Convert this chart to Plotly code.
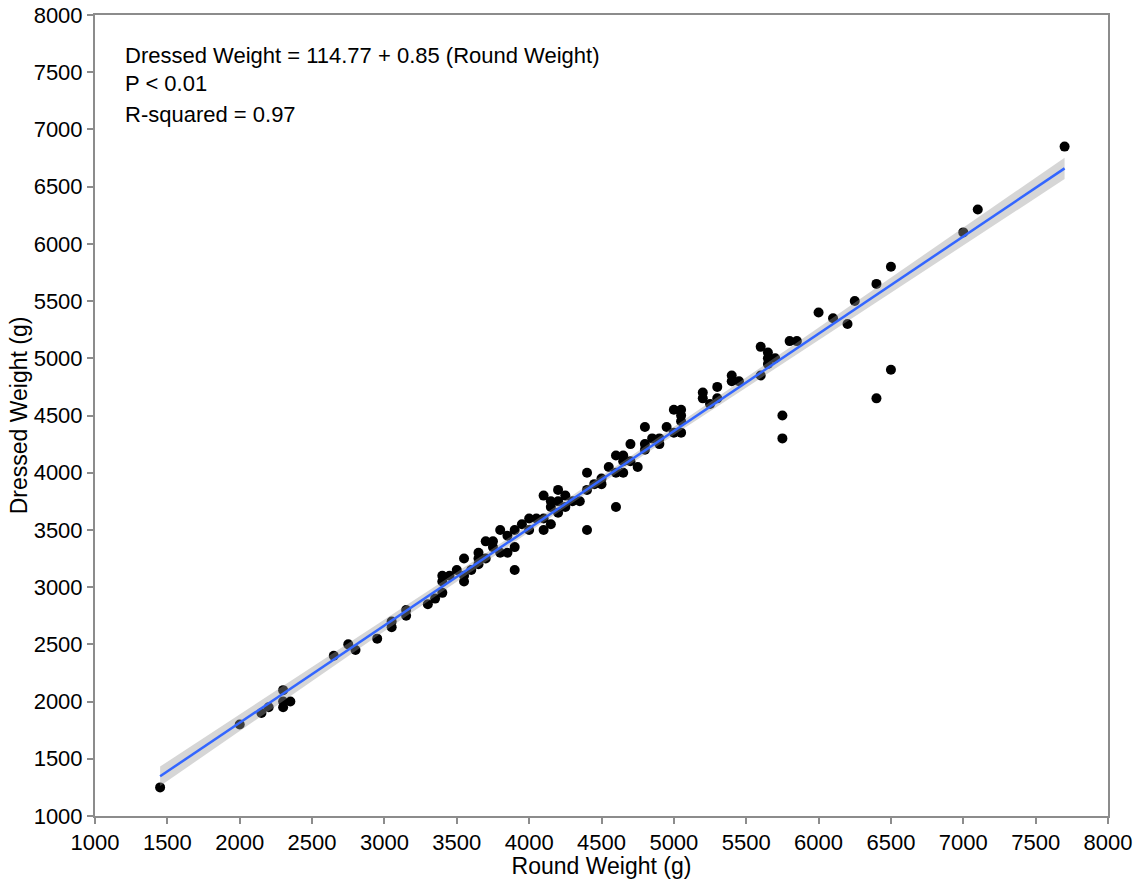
import numpy as np
import plotly.graph_objects as go

round_weight = [1450, 2000, 2150, 2200, 2300, 2300, 2300, 2350, 2650, 2750, 2800, 2950,
                3050, 3050, 3150, 3150, 3300, 3350, 3400, 3400, 3400, 3450, 3500,
                3550, 3550, 3550, 3600, 3650, 3650, 3650, 3700, 3700, 3750, 3750,
                3800, 3800, 3850, 3850, 3900, 3900, 3900, 3950, 4000, 4000, 4050,
                4100, 4100, 4100, 4150, 4150, 4150, 4200, 4200, 4200, 4250, 4250,
                4300, 4350, 4400, 4400, 4400, 4450, 4500, 4500, 4550, 4600, 4600,
                4600, 4650, 4650, 4650, 4700, 4700, 4750, 4800, 4800, 4800, 4850,
                4900, 4900, 4950, 5000, 5000, 5050, 5050, 5050, 5050, 5200, 5200,
                5250, 5300, 5300, 5400, 5400, 5450, 5600, 5600, 5650, 5650, 5650,
                5700, 5750, 5750, 5800, 5850, 6000, 6100, 6200, 6250, 6400, 6400,
                6500, 6500, 7000, 7100, 7700]
dressed_weight = [1250, 1800, 1900, 1950, 2100, 1950, 2000, 2000, 2400, 2500, 2450, 2550,
                  2650, 2700, 2800, 2750, 2850, 2900, 2950, 3100, 3050, 3100, 3150,
                  3250, 3050, 3100, 3150, 3300, 3250, 3200, 3400, 3250, 3400, 3350,
                  3500, 3300, 3450, 3300, 3500, 3350, 3150, 3550, 3600, 3500, 3600,
                  3800, 3500, 3600, 3550, 3750, 3700, 3850, 3750, 3650, 3800, 3700,
                  3750, 3750, 4000, 3500, 3850, 3900, 3950, 3900, 4050, 3700, 4000,
                  4150, 4150, 4100, 4000, 4250, 4100, 4050, 4400, 4250, 4200, 4300,
                  4300, 4250, 4400, 4550, 4350, 4550, 4500, 4450, 4350, 4700, 4650,
                  4600, 4750, 4650, 4850, 4800, 4800, 5100, 4850, 5050, 5000, 4950,
                  5000, 4500, 4300, 5150, 5150, 5400, 5350, 5300, 5500, 5650, 4650,
                  5800, 4900, 6100, 6300, 6850]

intercept = 114.77
slope = 0.85
equation_lines = ["Dressed Weight = 114.77 + 0.85 (Round Weight)", "P < 0.01", "R-squared = 0.97"]
tick_vals = list(range(1000, 8001, 500))

x = np.array(round_weight, dtype=float)
y = np.array(dressed_weight, dtype=float)
n = len(x)
xs = np.linspace(x.min(), x.max(), 80)
fit = intercept + slope * xs
resid = y - (intercept + slope * x)
s = np.sqrt(np.sum(resid ** 2) / (n - 2))
sxx = np.sum((x - x.mean()) ** 2)
se = s * np.sqrt(1.0 / n + (xs - x.mean()) ** 2 / sxx)
upper = fit + 1.98 * se
lower = fit - 1.98 * se

fig = go.Figure()
fig.add_trace(go.Scatter(x=round_weight, y=dressed_weight, mode="markers",
                         marker=dict(color="black", size=10), showlegend=False))
fig.add_trace(go.Scatter(x=np.concatenate([xs, xs[::-1]]), y=np.concatenate([upper, lower[::-1]]),
                         fill="toself", fillcolor="rgba(153,153,153,0.4)", line=dict(width=0),
                         mode="lines", showlegend=False, hoverinfo="skip"))
fig.add_trace(go.Scatter(x=xs, y=fit, mode="lines", line=dict(color="#3366FF", width=2.5),
                         showlegend=False))

axis_common = dict(range=[1000, 8000], tickvals=tick_vals, showgrid=False, zeroline=False,
                   showline=True, mirror=True, linecolor="#8c8c8c", linewidth=2,
                   ticks="outside", ticklen=6, tickcolor="#8c8c8c", tickwidth=1.5,
                   tickfont=dict(size=22, color="black"), automargin=False,
                   ticklabeloverflow="allow")
fig.update_xaxes(**axis_common, title=dict(text="Round Weight (g)", font=dict(size=23, color="black"), standoff=2))
fig.update_yaxes(**axis_common, title=dict(text="Dressed Weight (g)", font=dict(size=23, color="black"), standoff=0))

ys = [0.950, 0.914, 0.876]
for line, yy in zip(equation_lines, ys):
    fig.add_annotation(text=line, xref="paper", yref="paper", x=0.0276, y=yy,
                       xanchor="left", yanchor="middle", showarrow=False,
                       font=dict(size=22, color="black"))

fig.update_layout(width=1143, height=879, margin=dict(l=95, r=35, t=15, b=63),
                  plot_bgcolor="white", paper_bgcolor="white",
                  font=dict(family="Liberation Sans, Arial, sans-serif", color="black"))
fig.write_html("out.html", config={"displayModeBar": False},
               post_script="document.body.style.margin='0';")
